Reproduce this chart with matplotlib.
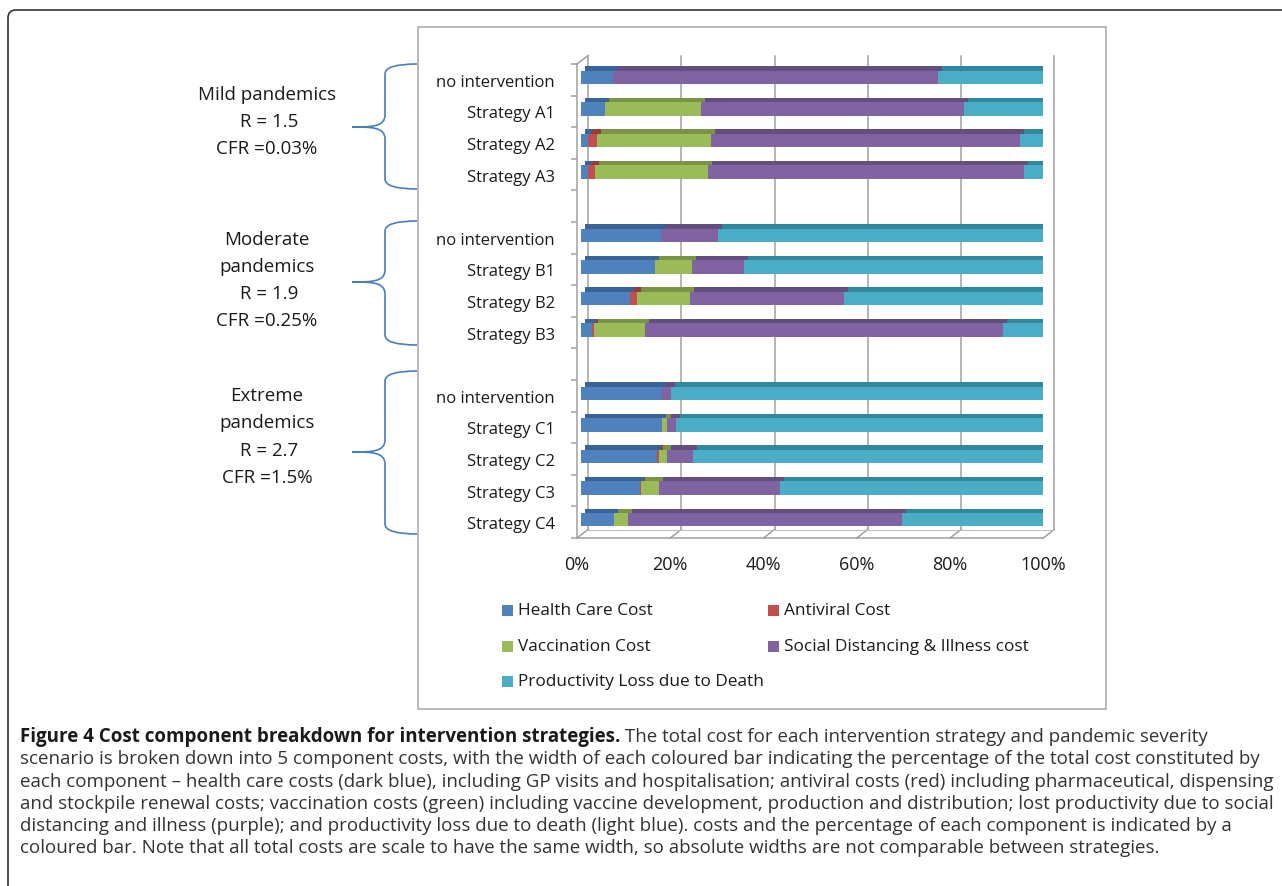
import matplotlib
matplotlib.use('Agg')
import matplotlib.pyplot as plt
from matplotlib.patches import Rectangle, FancyBboxPatch, PathPatch
from matplotlib.path import Path
from matplotlib.transforms import offset_copy

plt.rcParams['font.family'] = ['Open Sans', 'DejaVu Sans']

# rows of the chart, '' = gap between severity groups
row_labels = ['no intervention', 'Strategy A1', 'Strategy A2', 'Strategy A3', '',
              'no intervention', 'Strategy B1', 'Strategy B2', 'Strategy B3', '',
              'no intervention', 'Strategy C1', 'Strategy C2', 'Strategy C3', 'Strategy C4']

# percentage of total cost per component (one value per strategy row)
health = [6.8, 5.1, 1.6, 1.4, 17.1, 15.8, 10.6, 2.4, 17.4, 17.3, 16.3, 12.7, 7.0]
antiviral = [0, 0, 1.8, 1.6, 0, 0, 1.5, 0.4, 0, 0, 0.4, 0.2, 0]
vaccination = [0, 20.7, 24.5, 24.3, 0, 7.9, 11.2, 11.0, 0, 1.2, 1.8, 3.9, 3.1]
social = [69.8, 56.3, 66.3, 67.7, 12.3, 11.2, 33.1, 76.7, 1.9, 1.8, 5.5, 25.9, 58.7]
death = [23.4, 17.9, 5.8, 5.0, 70.6, 65.1, 43.6, 9.5, 80.7, 79.7, 76.0, 57.3, 31.2]

comp_names = ['Health Care Cost', 'Antiviral Cost', 'Vaccination Cost',
              'Social Distancing & Illness cost', 'Productivity Loss due to Death']
comp_values = [health, antiviral, vaccination, social, death]
colors = ['#4F81BD', '#C0504D', '#9BBB59', '#8064A2', '#4BACC6']
dark = ['#3A6497', '#973C3A', '#7A9446', '#634E80', '#31879E']

x_ticks = [0, 20, 40, 60, 80, 100]
x_ticklabels = ['0%', '20%', '40%', '60%', '80%', '100%']

groups = ['Mild pandemics\n R = 1.5\nCFR =0.03%',
          'Moderate\npandemics\n R = 1.9\nCFR =0.25%',
          'Extreme\npandemics\n R = 2.7\nCFR =1.5%']

caption_bold = 'Figure 4 Cost component breakdown for intervention strategies.'
caption_lines = [
    ' The total cost for each intervention strategy and pandemic severity',
    'scenario is broken down into 5 component costs, with the width of each coloured bar indicating the percentage of the total cost constituted by',
    'each component \u2013 health care costs (dark blue), including GP visits and hospitalisation; antiviral costs (red) including pharmaceutical, dispensing',
    'and stockpile renewal costs; vaccination costs (green) including vaccine development, production and distribution; lost productivity due to social',
    'distancing and illness (purple); and productivity loss due to death (light blue). costs and the percentage of each component is indicated by a',
    'coloured bar. Note that all total costs are scale to have the same width, so absolute widths are not comparable between strategies.',
]

W, H = 1282, 887
fig = plt.figure(figsize=(W / 100, H / 100), dpi=100)

# background layer in pixel coordinates (y downwards)
bg = fig.add_axes([0, 0, 1, 1])
bg.set_xlim(0, W)
bg.set_ylim(H, 0)
bg.axis('off')

bg.add_patch(FancyBboxPatch((8, 11), 1300, 920, boxstyle='round,pad=0,rounding_size=8',
                            fc='none', ec='#333333', lw=1.2))
bg.add_patch(Rectangle((418, 28), 688, 682, fc='none', ec='#a6a6a6', lw=1.1))

# front plane of the plot
FX0, FX1, FY0, FY1 = 577, 1043.3, 65, 539
ax = fig.add_axes([FX0 / W, 1 - FY1 / H, (FX1 - FX0) / W, (FY1 - FY0) / H])
ax.patch.set_alpha(0)
n = len(row_labels)
ax.set_xlim(0, 100)
ax.set_ylim(n - 0.5, -0.5)

px_x = 100 / (FX1 - FX0)
px_y = n / (FY1 - FY0)
dx, dy = 11, 8.5  # depth of the 3d box, pixels

back = offset_copy(ax.transData, fig=fig, x=dx, y=dy, units='dots')
for xt in x_ticks:
    ax.plot([xt, xt], [-0.5, n - 0.5], transform=back, color='#a0a0a0', lw=1.1,
            clip_on=False, zorder=0)
    ax.plot([xt, xt + dx * px_x], [n - 0.5, n - 0.5 - dy * px_y], color='#a0a0a0',
            lw=1.1, clip_on=False, zorder=0)
ax.plot([0, 100], [n - 0.5, n - 0.5], transform=back, color='#c0c0c0', lw=0.8,
        clip_on=False, zorder=0)
ax.plot([0, dx * px_x], [-0.5, -0.5 - dy * px_y], color='#a0a0a0', lw=1.1,
        clip_on=False, zorder=0)

# bars
ypos = [i for i, lab in enumerate(row_labels) if lab]
front = offset_copy(ax.transData, fig=fig, x=4, y=2.5, units='dots')
top = offset_copy(ax.transData, fig=fig, x=8, y=7, units='dots')
bh = 0.42
left = [0] * len(ypos)
for vals, c, d in zip(comp_values, colors, dark):
    ax.barh(ypos, vals, left=left, height=bh, color=d, lw=0, transform=top, zorder=2)
    ax.barh(ypos, vals, left=left, height=bh, color=c, lw=0, transform=front, zorder=3)
    left = [l + v for l, v in zip(left, vals)]

for s in ['top', 'right']:
    ax.spines[s].set_visible(False)
for s in ['left', 'bottom']:
    ax.spines[s].set_color('#a0a0a0')
    ax.spines[s].set_linewidth(1.1)

ax.set_xticks(x_ticks)
ax.set_xticklabels(x_ticklabels, fontsize=13, color='#1a1a1a')
ax.tick_params(axis='x', length=0, pad=12)
ax.set_yticks([i - 0.5 for i in range(n + 1)])
ax.set_yticklabels([])
ax.tick_params(axis='y', which='major', length=4, color='#a0a0a0', width=1.1)
ax.set_yticks(range(n), minor=True)
ax.set_yticklabels(row_labels, minor=True, fontsize=12, color='#1a1a1a')
ax.tick_params(axis='y', which='minor', length=0, pad=16)

# legend, laid out row by row as in the original
leg_pos = [(502, 611), (768, 611), (502, 647), (768, 647), (502, 682)]
for (lx, ly), name, c in zip(leg_pos, comp_names, colors):
    bg.add_patch(Rectangle((lx, ly - 5.5), 11, 11, fc=c, ec='none'))
    bg.text(lx + 16, ly, name, fontsize=12.4, va='center', ha='left', color='#1a1a1a')


# curly braces for severity groups
def brace(ytop, ybot, ytip, xr=417, xm=385, xt=352):
    verts = [(xr, ytop), (xm, ytop), (xm, ytop + 10),
             (xm, ytip - 12),
             (xm, ytip), (xm - 14, ytip), (xt, ytip),
             (xm - 14, ytip), (xm, ytip), (xm, ytip + 12),
             (xm, ybot - 10),
             (xm, ybot), (xr, ybot)]
    codes = [Path.MOVETO, Path.CURVE3, Path.CURVE3,
             Path.LINETO,
             Path.CURVE4, Path.CURVE4, Path.CURVE4,
             Path.CURVE4, Path.CURVE4, Path.CURVE4,
             Path.LINETO,
             Path.CURVE3, Path.CURVE3]
    bg.add_patch(PathPatch(Path(verts, codes), fc='none', ec='#4a7ebb', lw=1.2))


brace(65, 190, 128)
brace(222, 346, 283)
brace(372, 535, 453)

group_y = [122, 280.5, 437]
for gy, txt in zip(group_y, groups):
    bg.text(267, gy, txt, fontsize=13.5, ha='center', va='center', multialignment='center',
            linespacing=1.65, color='#1a1a1a')

# caption: size chosen so that the longest line fits the frame
r = fig.canvas.get_renderer()
widths = []
for line in caption_lines[1:]:
    probe = bg.text(20, 0, line, fontsize=12)
    widths.append(probe.get_window_extent(r).width)
    probe.remove()
cap_size = 12 * 1245 / max(widths)

cy = [737, 759.3, 781.6, 803.9, 826.2, 848.5]
tb = bg.text(20, cy[0], caption_bold, fontsize=cap_size, fontweight='bold', va='center',
             color='#1a1a1a')
bw = tb.get_window_extent(r).width
bg.text(20 + bw, cy[0], caption_lines[0], fontsize=cap_size, va='center', color='#333333')
for yy, line in zip(cy[1:], caption_lines[1:]):
    bg.text(20, yy, line, fontsize=cap_size, va='center', color='#333333')

fig.savefig('out.png', dpi=100)
